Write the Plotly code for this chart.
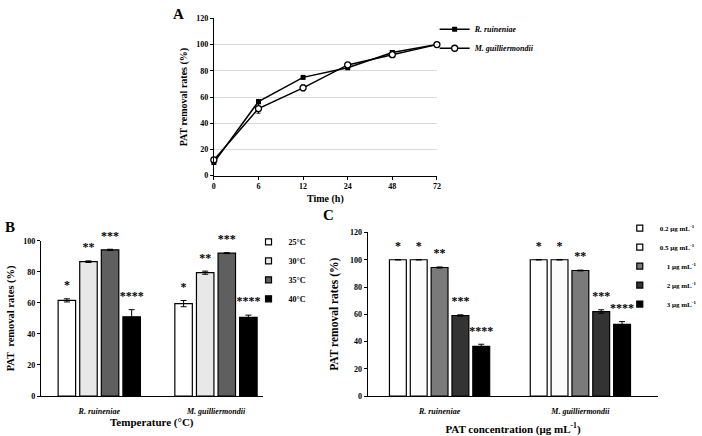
import plotly.graph_objects as go

# ---------------- data ----------------
time_labels = ["0", "6", "12", "24", "48", "72"]
rr_time = [10.0, 56.6, 75.0, 82.3, 94.0, 100.0]
rr_time_err = [1.2, 1.0, 1.0, 0.8, 0.8, 0.3]
mg_time = [12.0, 51.2, 67.0, 84.5, 92.3, 100.0]
mg_time_err = [1.5, 3.5, 2.2, 1.2, 1.0, 0.3]

strains = ["R. ruineniae", "M. guilliermondii"]
strain_ticks = ["<i>R. ruineniae</i>", "<i>M. guilliermondii</i>"]

temp_labels = ["25°C", "30°C", "35°C", "40°C"]
temp_vals = [[61.6, 59.5], [86.5, 79.4], [94.1, 92.0], [51.0, 50.6]]
temp_err = [[1.0, 2.0], [0.5, 1.0], [0.4, 0.3], [4.6, 1.5]]
temp_stars = ["*", "**", "***", "****"]
temp_colors = ["#ffffff", "#e8e8e8", "#5f5f5f", "#000000"]

conc_labels = ["0.2 μg mL<sup>-1</sup>", "0.5 μg mL<sup>-1</sup>", "\u2007\u20071 μg mL<sup>-1</sup>",
               "\u2007\u20072 μg mL<sup>-1</sup>", "\u2007\u20073 μg mL<sup>-1</sup>"]
conc_vals = [[100.0, 100.0], [100.0, 100.0], [94.3, 92.1], [59.1, 62.0], [36.5, 52.6]]
conc_err = [[0.2, 0.2], [0.2, 0.2], [0.4, 0.3], [0.5, 1.3], [1.5, 2.0]]
conc_stars = ["*", "*", "**", "***", "****"]
conc_colors = ["#ffffff", "#fbfbfb", "#7a7a7a", "#333333", "#000000"]

FONT = "Liberation Serif"
W, H = 702, 436

def px_x(a, b):
    return [a / W, b / W]

def px_y(top, bottom):
    return [1 - bottom / H, 1 - top / H]

star_font = dict(family=FONT, size=12, weight="bold", color="black")
hidden_marker = dict(size=9, color="rgba(0,0,0,0)")

fig = go.Figure()

# ---------------- panel A ----------------
fig.add_trace(go.Scatter(
    x=time_labels, y=rr_time, name="<i>R. ruineniae</i>", mode="lines+markers",
    line=dict(color="black", width=1.5),
    marker=dict(symbol="square", size=5, color="black"),
    error_y=dict(type="data", array=rr_time_err, color="black", thickness=1, width=2),
    xaxis="x", yaxis="y", legend="legend", offsetgroup="A", cliponaxis=False))
fig.add_trace(go.Scatter(
    x=time_labels, y=mg_time, name="<i>M. guilliermondii</i>", mode="lines+markers",
    line=dict(color="black", width=1.5),
    marker=dict(symbol="circle", size=6, color="white", line=dict(color="black", width=1.3)),
    error_y=dict(type="data", array=mg_time_err, color="black", thickness=1, width=2),
    xaxis="x", yaxis="y", legend="legend", offsetgroup="A", cliponaxis=False))

# ---------------- panel B ----------------
for i, lab in enumerate(temp_labels):
    fig.add_trace(go.Bar(
        x=strains, y=temp_vals[i], name=lab, showlegend=False,
        marker=dict(color=temp_colors[i], line=dict(color="black", width=1.2)),
        error_y=dict(type="data", array=temp_err[i], color="black", thickness=1, width=3),
        offsetgroup="b%d" % i, xaxis="x2", yaxis="y2"))
    fig.add_trace(go.Scatter(
        x=strains, y=[v + e for v, e in zip(temp_vals[i], temp_err[i])],
        text=[temp_stars[i]] * 2, mode="markers+text", textposition="top center",
        marker=hidden_marker, textfont=star_font, hoverinfo="skip",
        showlegend=False, offsetgroup="b%d" % i, xaxis="x2", yaxis="y2", cliponaxis=False))
    fig.add_trace(go.Scatter(
        x=[None], y=[None], name=lab, mode="markers",
        marker=dict(symbol="square", size=6, color=temp_colors[i], line=dict(color="black", width=1.2)),
        xaxis="x2", yaxis="y2", legend="legend2", offsetgroup="b%d" % i))

# ---------------- panel C ----------------
for i, lab in enumerate(conc_labels):
    fig.add_trace(go.Bar(
        x=strains, y=conc_vals[i], name=lab, showlegend=False,
        marker=dict(color=conc_colors[i], line=dict(color="black", width=1.2)),
        error_y=dict(type="data", array=conc_err[i], color="black", thickness=1, width=3),
        offsetgroup="c%d" % i, xaxis="x3", yaxis="y3"))
    fig.add_trace(go.Scatter(
        x=strains, y=[v + e for v, e in zip(conc_vals[i], conc_err[i])],
        text=[conc_stars[i]] * 2, mode="markers+text", textposition="top center",
        marker=hidden_marker, textfont=star_font, hoverinfo="skip",
        showlegend=False, offsetgroup="c%d" % i, xaxis="x3", yaxis="y3", cliponaxis=False))
    fig.add_trace(go.Scatter(
        x=[None], y=[None], name=lab, mode="markers",
        marker=dict(symbol="square", size=6, color=conc_colors[i], line=dict(color="black", width=1.2)),
        xaxis="x3", yaxis="y3", legend="legend3", offsetgroup="c%d" % i))

axis_common = dict(showline=True, linecolor="black", linewidth=1, zeroline=False,
                   tickcolor="black", tickfont=dict(family=FONT, size=8, weight="bold", color="black"))

fig.update_layout(
    width=W, height=H, margin=dict(l=0, r=0, t=0, b=0),
    paper_bgcolor="white", plot_bgcolor="white",
    font=dict(family=FONT, size=10, weight="bold", color="black"),
    barmode="group", bargap=0.26, bargroupgap=0.19,
    scattermode="group", scattergap=0.26,
    xaxis=dict(domain=px_x(214, 439.3), anchor="y", type="category", range=[0, 5],
               ticks="outside", ticklen=3, showgrid=False,
               title=dict(text="Time (h)", font=dict(size=10), standoff=4), **axis_common),
    yaxis=dict(domain=px_y(14.7, 175.3), anchor="x", range=[0, 120], dtick=20,
               ticks="outside", ticklen=3, showgrid=True, gridcolor="#d9d9d9", gridwidth=1,
               title=dict(text="PAT removal rates (%)", font=dict(size=10), standoff=6), **axis_common),
    xaxis2=dict(domain=px_x(39.3, 263.3), anchor="y2", type="category", range=[-0.5, 1.4],
                tickmode="array", tickvals=strains, ticktext=strain_ticks, ticks="", showgrid=False,
                ticklabelstandoff=7,
                title=dict(text="Temperature (°C)", font=dict(size=11), standoff=3), **axis_common),
    yaxis2=dict(domain=px_y(241.7, 400.3), anchor="x2", range=[0, 100], dtick=20,
                ticks="outside", ticklen=3, showgrid=False,
                title=dict(text="PAT  removal rates (%)", font=dict(size=10.5), standoff=6), **axis_common),
    xaxis3=dict(domain=px_x(369.3, 663), anchor="y3", type="category", range=[-0.511, 1.554],
                tickmode="array", tickvals=strains, ticktext=strain_ticks, ticks="", showgrid=False,
                ticklabelstandoff=7,
                title=dict(text="PAT concentration (μg mL<sup>-1</sup>)", font=dict(size=11), standoff=13),
                **axis_common),
    yaxis3=dict(domain=px_y(233.3, 400.3), anchor="x3", range=[0, 120], dtick=20,
                ticks="outside", ticklen=3, showgrid=False,
                title=dict(text="PAT removal rates (%)", font=dict(size=11.5), standoff=8), **axis_common),
    legend=dict(x=437 / W, y=1 - 11 / H, xanchor="left", yanchor="top", bgcolor="rgba(0,0,0,0)",
                font=dict(family=FONT, size=8, weight="bold", style="italic")),
    legend2=dict(x=249 / W, y=1 - 228 / H, xanchor="left", yanchor="top", bgcolor="rgba(0,0,0,0)",
                 font=dict(family=FONT, size=8, weight="bold")),
    legend3=dict(x=624 / W, y=1 - 214 / H, xanchor="left", yanchor="top", bgcolor="rgba(0,0,0,0)",
                 font=dict(family=FONT, size=7, weight="bold")),
    annotations=[
        dict(text="A", x=178 / W, y=1 - 10 / H, xref="paper", yref="paper", showarrow=False,
             xanchor="center", yanchor="middle", font=dict(size=15, weight="bold")),
        dict(text="B", x=8 / W, y=1 - 228 / H, xref="paper", yref="paper", showarrow=False,
             xanchor="center", yanchor="middle", font=dict(size=15, weight="bold")),
        dict(text="C", x=330 / W, y=1 - 215 / H, xref="paper", yref="paper", showarrow=False,
             xanchor="center", yanchor="middle", font=dict(size=15, weight="bold")),
    ],
)

fig.write_html("out.html")
